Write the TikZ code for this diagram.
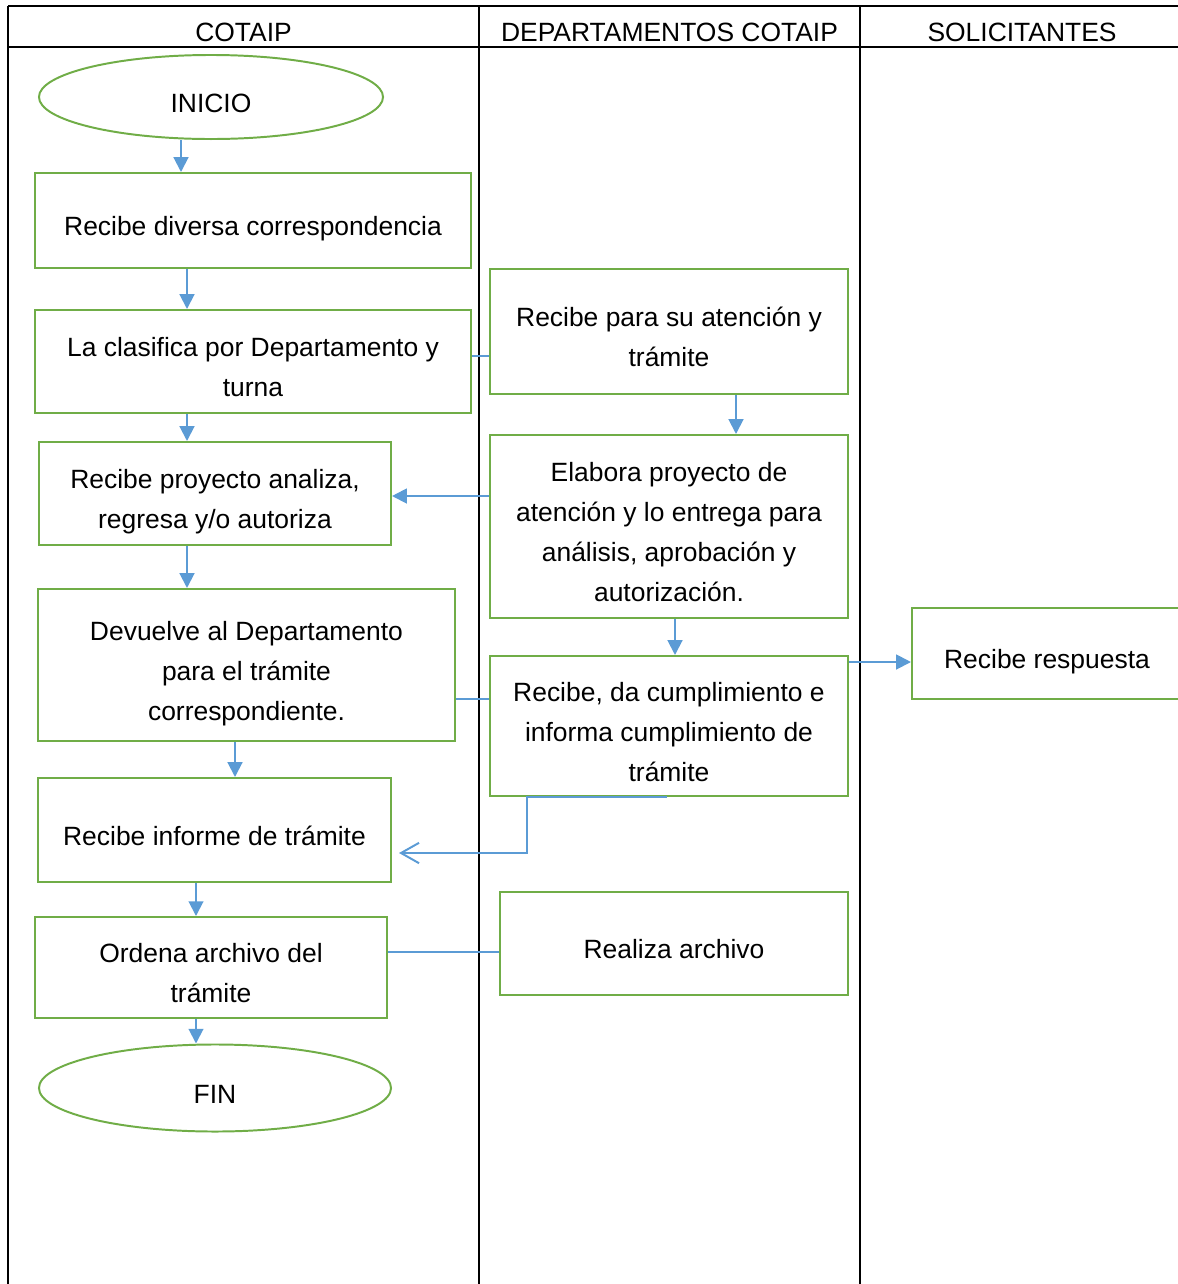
\documentclass[tikz,border=0pt]{standalone}
\usepackage{fontspec}
\setmainfont{Liberation Sans}
\usetikzlibrary{shapes.geometric,arrows.meta}
\definecolor{verde}{HTML}{70AD47}
\definecolor{azul}{HTML}{5B9BD5}
\begin{document}
\begin{tikzpicture}[x=0.025cm,y=-0.025cm,
    font=\fontsize{18.8}{28.45}\selectfont,
    texto/.style={text height=#1,text depth=0.2cm},
    texto/.default=0.95cm,
    caja/.style={texto=#1,draw=verde,line width=1.4pt,align=center,inner sep=0pt},
    caja/.default=0.95cm,
    elipse/.style={caja,ellipse},
    linea/.style={azul,line width=1.4pt},
    flecha/.style={linea,-{Triangle[length=10.5pt,width=10.5pt]}},
    abierta/.style={linea,-{Straight Barb[length=12.8pt,width=14.5pt]},shorten >=0.175cm}]
  \useasboundingbox (0,0) rectangle (1178,1284);
  \clip (0,0) rectangle (1178,1284);
  % tabla
  \draw[line width=1.4pt] (8,6) -- (1190,6) (8,47) -- (1190,47)
    (8,6) -- (8,1290) (479,6) -- (479,1290) (860,6) -- (860,1290);
  \draw
    (243.5,26.5) node[texto] (cotaip){COTAIP}
    (669.5,26.5) node[texto] (deptos){DEPARTAMENTOS COTAIP}
    (1022,26.5) node[texto] (solicit){SOLICITANTES};
  \draw
    (211,97) node[elipse,minimum width=8.6cm,minimum height=2.1cm] (inicio){INICIO}
    (253,220.5) node[caja,minimum width=10.9cm,minimum height=2.375cm] (recibe){Recibe diversa correspondencia}
    (253,361.5) node[caja=1.95cm,minimum width=10.9cm,minimum height=2.575cm] (clasifica){La clasifica por Departamento y\\turna}
    (669,331.5) node[caja=1.95cm,minimum width=8.95cm,minimum height=3.125cm] (atencion){Recibe para su atención y\\trámite}
    (669,526.5) node[caja=3.95cm,minimum width=8.95cm,minimum height=4.575cm] (elabora){Elabora proyecto de\\atención y lo entrega para\\análisis, aprobación y\\autorización.}
    (215,493.5) node[caja=1.95cm,minimum width=8.8cm,minimum height=2.575cm] (analiza){Recibe proyecto analiza,\\regresa y/o autoriza}
    (246.5,665) node[caja=2.95cm,minimum width=10.425cm,minimum height=3.8cm] (devuelve){Devuelve al Departamento\\para el trámite\\correspondiente.}
    (669,726) node[caja=2.95cm,minimum width=8.95cm,minimum height=3.5cm] (cumple){Recibe, da cumplimiento e\\informa cumplimiento de\\trámite}
    (1047,653.5) node[caja,minimum width=6.75cm,minimum height=2.275cm] (respuesta){Recibe respuesta}
    (214.5,830) node[caja,minimum width=8.825cm,minimum height=2.6cm] (informe){Recibe informe de trámite}
    (211,967.5) node[caja=1.95cm,minimum width=8.8cm,minimum height=2.525cm] (archivo){Ordena archivo del\\trámite}
    (674,943.5) node[caja,minimum width=8.7cm,minimum height=2.575cm] (realiza){Realiza archivo}
    (215,1088) node[elipse,minimum width=8.8cm,minimum height=2.175cm] (fin){FIN};
  \begin{scope}[flecha]
    \draw (inicio.south -| 181,0) to (recibe.north -| 181,0);
    \draw (recibe.south -| 187,0) to (clasifica.north -| 187,0);
    \draw (clasifica.south -| 187,0) to (analiza.north -| 187,0);
    \draw (analiza.south -| 187,0) to (devuelve.north -| 187,0);
    \draw (devuelve.south -| 235,0) to (informe.north -| 235,0);
    \draw (informe.south -| 196,0) to (archivo.north -| 196,0);
    \draw (archivo.south -| 196,0) to (fin.north -| 196,0);
    \draw (atencion.south -| 736,0) to (elabora.north -| 736,0);
    \draw (elabora.south -| 675,0) to (cumple.north -| 675,0);
    \draw (elabora.west |- 0,496) to (analiza.east |- 0,496);
    \draw (cumple.east |- 0,662) to (respuesta.west |- 0,662);
  \end{scope}
  \begin{scope}[linea]
    \draw (clasifica.east |- 0,356) to (atencion.west |- 0,356);
    \draw (devuelve.east |- 0,699) to (cumple.west |- 0,699);
    \draw (archivo.east |- 0,952) to (realiza.west |- 0,952);
  \end{scope}
  \draw[abierta] (cumple.south -| 667,0) -- (cumple.south -| 527,0) |- (informe.east |- 0,853);
\end{tikzpicture}
\end{document}
